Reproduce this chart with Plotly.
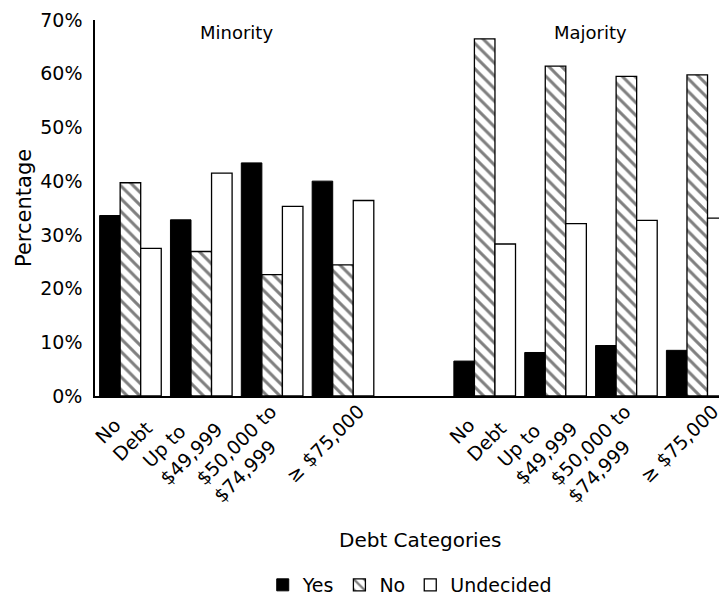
import plotly.graph_objects as go

categories = ["No<br>Debt", "Up to<br>$49,999", "$50,000 to<br>$74,999", "≥ $75,000"]
groups = ["Minority", "Majority"]
series = ["Yes", "No", "Undecided"]

minority_yes = [33.6, 32.8, 43.4, 40.0]
minority_no = [39.7, 26.9, 22.6, 24.4]
minority_und = [27.5, 41.5, 35.3, 36.4]

majority_yes = [6.5, 8.1, 9.4, 8.5]
majority_no = [66.5, 61.4, 59.5, 59.8]
majority_und = [28.3, 32.1, 32.7, 33.1]

y_ticks = [0, 10, 20, 30, 40, 50, 60, 70]
y_tick_labels = [f"{v}%" for v in y_ticks]

n = len(categories)
x_min = list(range(n))
x_maj = [i + n + 1 for i in range(n)]
xs = x_min + x_maj

FONT = "DejaVu Sans"

yes_vals = minority_yes + majority_yes
no_vals = minority_no + majority_no
und_vals = minority_und + majority_und

fig = go.Figure()
fig.add_trace(go.Bar(
    x=xs, y=yes_vals, name=series[0],
    marker=dict(color="black", line=dict(color="black", width=1)),
))
fig.add_trace(go.Bar(
    x=xs, y=no_vals, name=series[1],
    marker=dict(color="white", line=dict(color="black", width=1.3),
                pattern=dict(shape="\\", fgcolor="black", bgcolor="white",
                             size=9, solidity=0.33)),
))
fig.add_trace(go.Bar(
    x=xs, y=und_vals, name=series[2],
    marker=dict(color="white", line=dict(color="black", width=1.3)),
))

# rotated, left-aligned category labels under each bar group
for xv, lab in zip(xs, categories + categories):
    fig.add_annotation(x=xv, y=0, xref="x", yref="y", text=lab, showarrow=False,
                       textangle=-45, align="left", xanchor="right", yanchor="top",
                       xshift=29, yshift=-1,
                       font=dict(family=FONT, size=19, color="black"))

fig.add_annotation(x=sum(x_min) / n, y=1, xref="x", yref="paper",
                   text=groups[0], showarrow=False, yanchor="middle", yshift=-12,
                   font=dict(family=FONT, size=18, color="black"))
fig.add_annotation(x=sum(x_maj) / n, y=1, xref="x", yref="paper",
                   text=groups[1], showarrow=False, yanchor="middle", yshift=-12,
                   font=dict(family=FONT, size=18, color="black"))
fig.add_annotation(x=0.514, y=-0.383, xref="paper", yref="paper",
                   text="Debt Categories", showarrow=False, yanchor="middle",
                   font=dict(family=FONT, size=20, color="black"))
fig.add_annotation(x=0, y=0.5, xref="paper", yref="paper", xshift=-71,
                   text="Percentage", showarrow=False, textangle=-90,
                   xanchor="center", yanchor="middle",
                   font=dict(family=FONT, size=21, color="black"))

fig.update_layout(
    width=719, height=589,
    margin=dict(l=87, r=0, t=12, b=201),
    paper_bgcolor="white", plot_bgcolor="white",
    barmode="group", bargap=0.13, bargroupgap=0,
    font=dict(family=FONT, color="black"),
    showlegend=True,
    legend=dict(orientation="h", xref="paper", x=0.498, xanchor="center",
                yref="container", y=0.0204, yanchor="middle",
                font=dict(family=FONT, size=19, color="black"),
                itemwidth=30, tracegroupgap=0),
)
fig.update_xaxes(
    range=[-0.5, 8.42],
    tickvals=xs, showticklabels=False,
    showline=True, linecolor="black", linewidth=1.5,
    showgrid=False, zeroline=False, ticks="",
)
fig.update_yaxes(
    range=[0, 70], tickvals=y_ticks, ticktext=y_tick_labels,
    tickfont=dict(family=FONT, size=19, color="black"),
    showline=True, linecolor="black", linewidth=1.5,
    showgrid=False, zeroline=False, ticks="", ticklabelstandoff=7,
)

fig.write_html("out.html")
